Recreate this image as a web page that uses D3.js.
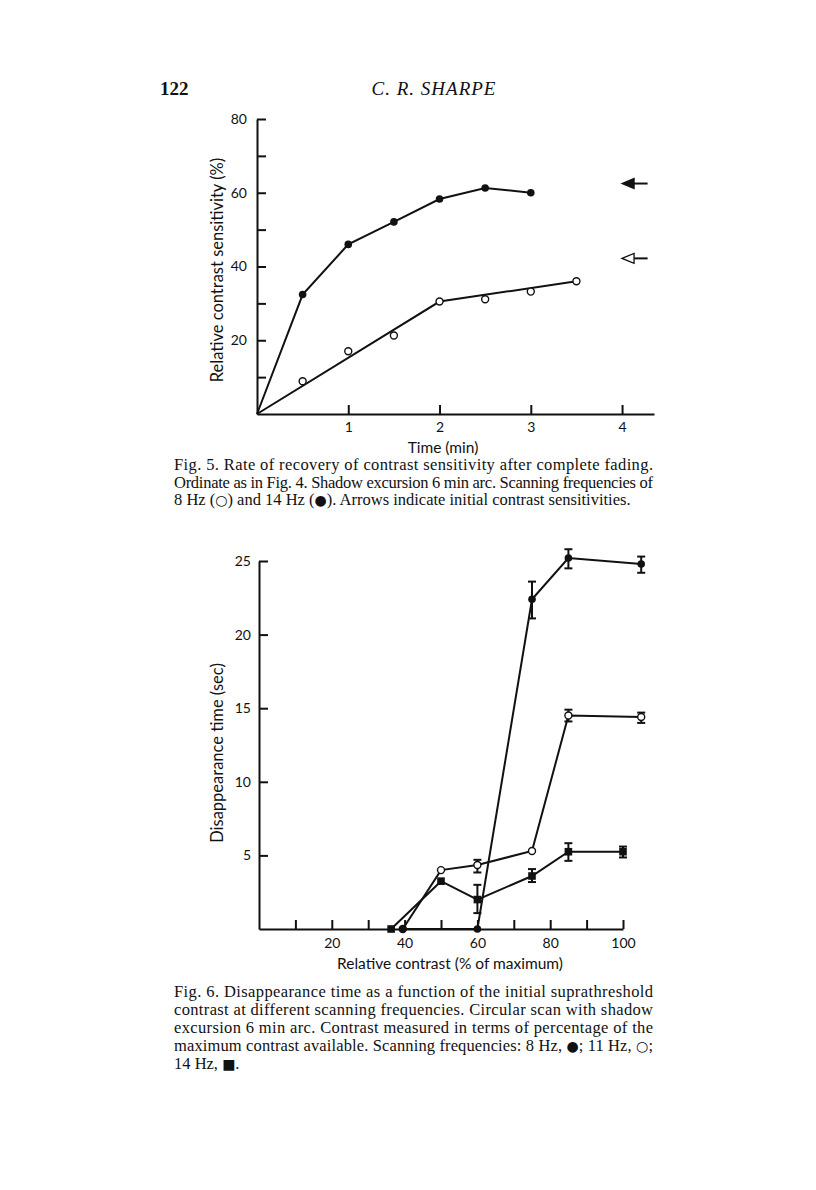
<!DOCTYPE html>
<html>
<head>
<meta charset="utf-8">
<script src="https://cdn.jsdelivr.net/npm/d3@7"></script>
<style>
  body { margin: 0; background: #fff; }
  svg text { fill: #111; }
</style>
</head>
<body>
<div class="page"></div>
<script>
// ---- Fig. 5 data ----
var timeVals = [0, 0.5, 1, 1.5, 2, 2.5, 3, 3.5];
var hz14Sens = [0, 32.4, 46, 52.1, 58.3, 61.3, 60];          // filled circles
var hz8Sens = [null, 8.9, 17, 21.3, 30.5, 31.1, 33.2, 36];   // open circles
var hz8FitX = [0, 2, 3.5];
var hz8FitY = [0, 30.5, 36];
var initialSens = [62.5, 42.2];                              // arrows: 14 Hz, 8 Hz
var fig5YTicks = [10, 20, 30, 40, 50, 60, 70, 80];
var fig5YLabels = [20, 40, 60, 80];
var fig5XTicks = [1, 2, 3, 4];

// ---- Fig. 6 data ----
var hz8Contrast = [39.5, 60, 75, 85, 105];
var hz8Time = [0, 0, 22.4, 25.2, 24.8];
var hz8Err = [null, null, [21.1, 23.6], [24.5, 25.8], [24.2, 25.3]];
var hz11Contrast = [39.5, 50, 60, 75, 85, 105];
var hz11Time = [0, 4.0, 4.35, 5.3, 14.5, 14.4];
var hz11Err = [null, null, [3.84, 4.7], null, [14.1, 14.9], [14.0, 14.7]];
var hz14Contrast = [36.3, 50, 60, 75, 85, 100];
var hz14Time = [0, 3.25, 2.0, 3.6, 5.25, 5.25];
var hz14Err = [null, null, [1.08, 3.0], [3.19, 4.07], [4.63, 5.83], [4.86, 5.6]];
var fig6YTicks = [5, 10, 15, 20, 25];
var fig6XTicks = [10, 20, 30, 40, 50, 60, 70, 80, 90, 100];
var fig6XLabels = [20, 40, 60, 80, 100];

var W = 816, H = 1190;
var sans = "Lato, 'Open Sans', sans-serif";
var serif = "'Liberation Serif', 'DejaVu Serif', serif";

var svg = d3.select(".page").append("svg")
  .attr("width", W).attr("height", H)
  .style("display", "block");

svg.append("rect").attr("width", W).attr("height", H).attr("fill", "#fff");

// running head
svg.append("text").attr("x", 160).attr("y", 95)
  .style("font-family", serif).style("font-size", "19px").style("font-weight", "bold")
  .text("122");
svg.append("text").attr("x", 434).attr("y", 95).attr("text-anchor", "middle")
  .style("font-family", serif).style("font-size", "19px").style("font-style", "italic")
  .style("letter-spacing", "1px")
  .text("C. R. SHARPE");

function styleAxis(g) {
  g.selectAll("path, line").attr("stroke", "#111").attr("stroke-width", 2);
  g.selectAll("text").style("font-family", sans).style("font-size", "14px").attr("fill", "#111");
}

// ================= Fig. 5 =================
var x5 = d3.scaleLinear().domain([0, 4.35]).range([257, 654]);
var y5 = d3.scaleLinear().domain([0, 80]).range([414, 119]);

svg.append("g").attr("transform", "translate(0,414)")
  .call(d3.axisBottom(x5).tickValues(fig5XTicks).tickSizeInner(-9).tickSizeOuter(0).tickPadding(8)
    .tickFormat(d3.format("d")))
  .call(styleAxis);

svg.append("g").attr("transform", "translate(257,0)")
  .call(d3.axisLeft(y5).tickValues(fig5YTicks).tickSizeInner(-9).tickSizeOuter(0).tickPadding(10)
    .tickFormat(function(d) { return fig5YLabels.indexOf(d) >= 0 ? d : ""; }))
  .call(styleAxis);

svg.append("text").attr("transform", "translate(223,270) rotate(-90)")
  .attr("text-anchor", "middle")
  .style("font-family", sans).style("font-size", "16.5px")
  .text("Relative contrast sensitivity (%)");
svg.append("text").attr("x", 443).attr("y", 453).attr("text-anchor", "middle")
  .style("font-family", sans).style("font-size", "15.5px")
  .text("Time (min)");

var line5 = d3.line().x(function(d) { return x5(d[0]); }).y(function(d) { return y5(d[1]); });

var pts14 = hz14Sens.map(function(v, i) { return [timeVals[i], v]; });
var pts8 = hz8Sens.map(function(v, i) { return [timeVals[i], v]; }).filter(function(d) { return d[1] !== null; });
var fit8 = hz8FitX.map(function(v, i) { return [v, hz8FitY[i]]; });

svg.append("path").datum(pts14).attr("d", line5)
  .attr("fill", "none").attr("stroke", "#111").attr("stroke-width", 2);
svg.append("path").datum(fit8).attr("d", line5)
  .attr("fill", "none").attr("stroke", "#111").attr("stroke-width", 2);

svg.selectAll(".o5").data(pts8).enter().append("circle")
  .attr("cx", function(d) { return x5(d[0]); })
  .attr("cy", function(d) { return y5(d[1]); })
  .attr("r", 3.5).attr("fill", "#fff").attr("stroke", "#111").attr("stroke-width", 1.4);
svg.selectAll(".f5").data(pts14.slice(1)).enter().append("circle")
  .attr("cx", function(d) { return x5(d[0]); })
  .attr("cy", function(d) { return y5(d[1]); })
  .attr("r", 3.8).attr("fill", "#111");

// arrows for initial sensitivities
initialSens.forEach(function(v, i) {
  var tip = x5(4.0), yy = y5(v), end = x5(4.28);
  svg.append("line").attr("x1", tip + 10).attr("x2", end).attr("y1", yy).attr("y2", yy)
    .attr("stroke", "#111").attr("stroke-width", 2);
  svg.append("path")
    .attr("d", "M" + tip + "," + yy + " L" + (tip + 12) + "," + (yy - 5) + " L" + (tip + 12) + "," + (yy + 5) + " Z")
    .attr("fill", i === 0 ? "#111" : "#fff").attr("stroke", "#111").attr("stroke-width", 1.3);
});

// ================= Fig. 6 =================
var x6 = d3.scaleLinear().domain([0, 100]).range([259, 623]);
var y6 = d3.scaleLinear().domain([0, 25]).range([929, 561]);

svg.append("g").attr("transform", "translate(0,929)")
  .call(d3.axisBottom(x6).tickValues(fig6XTicks).tickSizeInner(-9).tickSizeOuter(0).tickPadding(9)
    .tickFormat(function(d) { return fig6XLabels.indexOf(d) >= 0 ? d : ""; }))
  .call(styleAxis);

svg.append("g").attr("transform", "translate(259,0)")
  .call(d3.axisLeft(y6).tickValues(fig6YTicks).tickSizeInner(-9).tickSizeOuter(0).tickPadding(8))
  .call(styleAxis);

svg.append("text").attr("transform", "translate(223,753) rotate(-90)")
  .attr("text-anchor", "middle")
  .style("font-family", sans).style("font-size", "16.5px")
  .text("Disappearance time (sec)");
svg.append("text").attr("x", 450).attr("y", 969).attr("text-anchor", "middle")
  .style("font-family", sans).style("font-size", "15.5px")
  .text("Relative contrast (% of maximum)");

var line6 = d3.line().x(function(d) { return x6(d.x); }).y(function(d) { return y6(d.y); });

function series(xs, ys, errs) {
  return xs.map(function(v, i) { return { x: v, y: ys[i], e: errs[i] }; });
}
var s8 = series(hz8Contrast, hz8Time, hz8Err);
var s11 = series(hz11Contrast, hz11Time, hz11Err);
var s14 = series(hz14Contrast, hz14Time, hz14Err);

[s14, s11, s8].forEach(function(s) {
  svg.append("path").datum(s).attr("d", line6)
    .attr("fill", "none").attr("stroke", "#111").attr("stroke-width", 2);
});

// error bars
[s8, s11, s14].forEach(function(s) {
  var g = svg.append("g");
  s.filter(function(d) { return d.e; }).forEach(function(d) {
    var cx = x6(d.x);
    g.append("line").attr("x1", cx).attr("x2", cx).attr("y1", y6(d.e[0])).attr("y2", y6(d.e[1]))
      .attr("stroke", "#111").attr("stroke-width", 2);
    d.e.forEach(function(v) {
      g.append("line").attr("x1", cx - 4).attr("x2", cx + 4).attr("y1", y6(v)).attr("y2", y6(v))
        .attr("stroke", "#111").attr("stroke-width", 2);
    });
  });
});

svg.selectAll(".o6").data(s11).enter().append("circle")
  .attr("cx", function(d) { return x6(d.x); })
  .attr("cy", function(d) { return y6(d.y); })
  .attr("r", 3.5).attr("fill", "#fff").attr("stroke", "#111").attr("stroke-width", 1.4);
svg.selectAll(".f6").data(s8).enter().append("circle")
  .attr("cx", function(d) { return x6(d.x); })
  .attr("cy", function(d) { return y6(d.y); })
  .attr("r", 3.8).attr("fill", "#111");
svg.selectAll(".s6").data(s14).enter().append("rect")
  .attr("x", function(d) { return x6(d.x) - 3.8; })
  .attr("y", function(d) { return y6(d.y) - 3.8; })
  .attr("width", 7.6).attr("height", 7.6).attr("fill", "#111");

// ================= captions =================
var sym = "font-family:'DejaVu Sans',sans-serif;font-size:14px";
function caption(lines, top, step) {
  lines.forEach(function(l, i) {
    var t = svg.append("text").attr("x", 174).attr("y", top + i * step)
      .style("font-family", serif).style("font-size", "16.5px");
    if (l.justify) t.attr("textLength", 479).attr("lengthAdjust", "spacing");
    t.html(l.html);
  });
}
caption([
  { html: "Fig. 5. Rate of recovery of contrast sensitivity after complete fading.", justify: true },
  { html: "Ordinate as in Fig. 4. Shadow excursion 6 min arc. Scanning frequencies of", justify: true },
  { html: "8 Hz (<tspan style=\"" + sym + "\">○</tspan>) and 14 Hz (<tspan style=\"" + sym + "\">●</tspan>). Arrows indicate initial contrast sensitivities.", justify: false }
], 470, 17.5);

caption([
  { html: "Fig. 6. Disappearance time as a function of the initial suprathreshold", justify: true },
  { html: "contrast at different scanning frequencies. Circular scan with shadow", justify: true },
  { html: "excursion 6 min arc. Contrast measured in terms of percentage of the", justify: true },
  { html: "maximum contrast available. Scanning frequencies: 8 Hz, <tspan style=\"" + sym + "\">●</tspan>; 11 Hz, <tspan style=\"" + sym + "\">○</tspan>;", justify: true },
  { html: "14 Hz, <tspan style=\"" + sym + "\">■</tspan>.", justify: false }
], 997, 18);
</script>
</body>
</html>
